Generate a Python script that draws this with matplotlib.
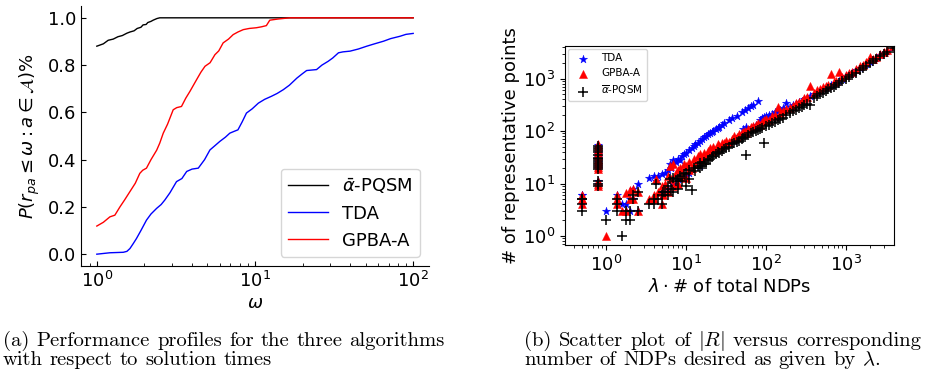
import matplotlib
matplotlib.use("Agg")
import matplotlib.pyplot as plt
import numpy as np

# ---------------- Data: performance profiles (left) ----------------
pqsm_w = [1.0, 1.1, 1.18, 1.27, 1.36, 1.45, 1.55, 1.62, 1.72, 1.8, 1.9, 1.96, 2.05,
          2.1, 2.2, 2.27, 2.4, 2.5, 100.0]
pqsm_p = [0.88, 0.89, 0.905, 0.91, 0.92, 0.925, 0.935, 0.94, 0.945, 0.955, 0.96,
          0.97, 0.972, 0.98, 0.985, 0.99, 0.997, 1.0, 1.0]

tda_w = [1.0, 1.21, 1.47, 1.55, 1.62, 1.7, 1.78, 1.9, 2.06, 2.2, 2.39, 2.55, 2.69,
         2.9, 3.19, 3.45, 3.7, 4.0, 4.38, 4.8, 5.19, 5.6, 5.99, 6.5, 6.93, 7.4, 7.8,
         8.3, 8.83, 9.6, 10.5, 11.5, 12.7, 13.8, 15.1, 16.5, 18.4, 19.8, 21.2, 24.5,
         26.5, 29.0, 31.0, 33.7, 36.0, 39.9, 45.0, 50.9, 57.0, 64.9, 72.0, 82.6, 90.0,
         100.0]
tda_p = [0.0, 0.006, 0.008, 0.012, 0.024, 0.045, 0.066, 0.1, 0.144, 0.17, 0.194, 0.21,
         0.229, 0.26, 0.307, 0.32, 0.35, 0.36, 0.364, 0.4, 0.441, 0.46, 0.477, 0.495,
         0.512, 0.52, 0.526, 0.56, 0.597, 0.615, 0.639, 0.655, 0.668, 0.68, 0.696,
         0.715, 0.745, 0.762, 0.777, 0.781, 0.8, 0.816, 0.83, 0.852, 0.856, 0.859,
         0.868, 0.88, 0.89, 0.901, 0.912, 0.922, 0.93, 0.934]

gpba_w = [1.0, 1.1, 1.21, 1.3, 1.4, 1.5, 1.62, 1.75, 1.87, 1.95, 2.06, 2.2, 2.39,
          2.5, 2.63, 2.8, 3.04, 3.2, 3.43, 3.65, 3.88, 4.27, 4.55, 4.83, 5.2, 5.58,
          5.9, 6.29, 6.8, 7.28, 7.8, 8.43, 9.2, 10.2, 11.0, 11.8, 12.4, 14.0, 16.6,
          100.0]
gpba_p = [0.119, 0.135, 0.158, 0.165, 0.2, 0.23, 0.265, 0.3, 0.342, 0.355, 0.364,
          0.4, 0.44, 0.47, 0.512, 0.55, 0.611, 0.62, 0.625, 0.66, 0.689, 0.738, 0.77,
          0.795, 0.81, 0.844, 0.86, 0.894, 0.91, 0.929, 0.94, 0.95, 0.955, 0.958,
          0.962, 0.967, 0.99, 0.995, 1.0, 1.0]

# ---------------- Data: scatter (right) ----------------
ndp_x = [0.5, 0.5, 0.5, 0.5,
         0.8, 0.8, 0.8, 0.8, 0.8, 0.8, 0.8, 0.8, 0.8, 0.8, 0.8, 0.8, 0.8, 0.8, 0.8,
         1.0, 1.4, 1.4, 1.4, 1.6, 1.8, 1.8, 2.0, 2.0, 2.2, 2.2, 2.5, 2.5,
         3.5, 4, 4, 4.2, 4.5, 5, 5, 5.2, 5.5, 6, 6, 6.3, 6.5, 7, 7, 7.5, 8, 8, 8.5, 9,
         9.5, 10, 10, 11, 11, 12, 12.5, 13, 14, 15, 15, 16, 17, 18, 19, 20, 21, 22, 24,
         25, 26, 28, 30, 32, 35, 38, 40, 43, 46, 50, 52, 55, 57, 60, 65, 70, 75, 80, 85,
         90, 95, 100, 110, 120, 130, 140, 150, 165, 180, 200, 220, 240, 260, 280, 300,
         330, 360, 400, 440, 480, 520, 560, 600, 650, 700, 760, 820, 900, 1000, 1100,
         1200, 1350, 1500, 1650, 1800, 2000, 2200, 2400, 2700, 3000, 3300, 3900]

tda_y = [4, 5, 6, 6,
         55, 50, 45, 40, 36, 32, 30, 28, 26, 24, 22, 20, 11, 10, 9,
         3, 6, 5, 4, 4, 4, 3, 3, 5, 8, 5, 10, 3,
         13, 14, 5, 11, 14, 15, 6, 7, 16, 18, 8, 24, 20, 28, 10, 26, 30, 12, 28, 33,
         36, 38, 14, 44, 16, 48, 52, 56, 60, 66, 22, 72, 76, 80, 88, 92, 96, 100, 110,
         115, 122, 130, 140, 55, 165, 175, 65, 190, 80, 230, 110, 250, 120, 270, 300, 320, 130, 370, 160,
         175, 185, 190, 200, 215, 230, 240, 250, 270, 340, 290, 310, 330, 350, 370, 400,
         430, 460, 500, 540, 580, 620, 660, 700, 740, 780, 840, 900, 980, 1100, 1200,
         1300, 1450, 1600, 1750, 1900, 2100, 2300, 2500, 2800, 3100, 3400, 4000]

gpba_y = [5, 6, 5, 4,
          57, 52, 46, 42, 38, 34, 30, 28, 26, 24, 21, 19, 11, 10, 9,
          1, 6, 5, 4, 3, 6.5, 3, 7.5, 5, 8, 5, 7, 3,
          5, 6, 5, 12, 7, 9, 4, 6, 10, 14, 7, 22, 12, 24, 9, 16, 18, 10, 20, 14,
          24, 22, 13, 26, 18, 20, 30, 24, 34, 28, 36, 30, 38, 34, 42, 48, 40, 50, 46,
          56, 52, 60, 58, 66, 62, 72, 80, 76, 86, 90, 96, 100, 92, 110, 118, 124, 130, 140, 130,
          150, 160, 170, 165, 190, 200, 290, 220, 240, 260, 280, 300, 340, 360, 380, 420,
          440, 720, 540, 600, 620, 680, 720, 760, 1200, 860, 900, 1350, 1050, 1150, 1250,
          1350, 1500, 1700, 1850, 2100, 2600, 2400, 2600, 2900, 3200, 3500, 4100]

pqsm_y = [3, 5, 4, 5,
          52, 48, 44, 40, 35, 31, 29, 27, 25, 23, 21, 19, 11, 10, 9,
          2, 5, 4, 3, 1, 2, 3, 2, 3, 6, 5, 7, 3,
          4, 4, 5, 10, 5, 6, 4, 7, 7, 9, 6, 12, 8, 13, 7, 11, 12, 8, 14, 11,
          15, 16, 9, 18, 12, 7.5, 20, 17, 22, 20, 25, 22, 26, 24, 28, 30, 32, 34, 36,
          40, 38, 42, 46, 48, 50, 56, 60, 62, 66, 70, 74, 78, 35, 84, 90, 96, 100, 106, 110,
          116, 59, 124, 130, 140, 150, 160, 170, 180, 200, 220, 240, 250, 270, 290, 310,
          330, 320, 430, 460, 500, 540, 580, 620, 660, 700, 760, 820, 880, 960, 1050,
          1150, 1300, 1450, 1600, 1750, 1950, 2150, 2350, 2650, 2950, 3250, 3900]

# ---------------- Figure ----------------
W, H = 926, 374
fig = plt.figure(figsize=(W / 100, H / 100), dpi=100)

# Left panel
ax1 = fig.add_axes([81 / W, 1 - 266 / H, (429 - 81) / W, (266 - 6) / H])
ax1.plot(pqsm_w, pqsm_p, color="black", lw=1.0, label=r"$\bar{\alpha}$-PQSM")
ax1.plot(tda_w, tda_p, color="blue", lw=1.0, label="TDA")
ax1.plot(gpba_w, gpba_p, color="red", lw=1.0, label="GPBA-A")
ax1.set_xscale("log")
ax1.set_yticks([0.0, 0.2, 0.4, 0.6, 0.8, 1.0])
ax1.spines["top"].set_visible(False)
ax1.spines["right"].set_visible(False)
ax1.tick_params(which="both", direction="in", labelsize=13)
ax1.set_xlabel(r"$\omega$", fontsize=13, labelpad=2)
ax1.set_ylabel(r"$P(r_{pa} \leq \omega : a \in \mathcal{A})\%$", fontsize=13, labelpad=4)
ax1.legend(loc="lower right", fontsize=13, handlelength=2.2)

# Right panel
ax2 = fig.add_axes([565 / W, 1 - 245 / H, (894 - 565) / W, (245 - 46) / H])
ax2.scatter(ndp_x, tda_y, marker="*", color="blue", s=38, linewidths=0.3, label="TDA")
ax2.scatter(ndp_x, gpba_y, marker="^", color="red", s=34, linewidths=0.3, label="GPBA-A")
ax2.scatter(ndp_x, pqsm_y, marker="+", color="black", s=42, linewidths=1.1,
            label=r"$\overline{\alpha}$-PQSM")
ax2.set_xscale("log")
ax2.set_yscale("log")
ax2.set_xlim(10 ** -0.509, 10 ** 3.6)
ax2.set_ylim(10 ** -0.17, 10 ** 3.62)
ax2.tick_params(which="both", labelsize=13)
ax2.set_xlabel(r"$\lambda \cdot$# of total NDPs", fontsize=13, labelpad=2)
ax2.set_ylabel("# of representative points", fontsize=13, labelpad=2)
ax2.legend(loc="upper left", fontsize=7.5, scatterpoints=1, borderaxespad=0.3)

# ---------------- Captions (justified, serif) ----------------
fig.canvas.draw()
renderer = fig.canvas.get_renderer()


def measure(words, fs):
    ws = []
    for w in words:
        t = fig.text(0, 0, w, fontsize=fs, family="cmr10", math_fontfamily="cm")
        ws.append(t.get_window_extent(renderer).width)
        t.remove()
    return ws


# choose caption size so that line (a) fills its width with natural spacing
ref_words = "(a) Performance profiles for the three algorithms".split()
ws10 = measure(ref_words, 10)
space10 = 10 * 100 / 72 * 0.333
nat10 = sum(ws10) + space10 * (len(ref_words) - 1)
CAP_FS = 10 * 440 / nat10


def place_line(words, x0, x1, ybase, justify=True):
    texts = []
    widths = []
    for w in words:
        t = fig.text(0, 0, w, fontsize=CAP_FS, family="cmr10", math_fontfamily="cm",
                     va="baseline", ha="left")
        texts.append(t)
        widths.append(t.get_window_extent(renderer).width)
    total = sum(widths)
    if justify and len(words) > 1:
        gap = (x1 - x0 - total) / (len(words) - 1)
    else:
        gap = CAP_FS * 100 / 72 * 0.333
    x = x0
    for t, wd in zip(texts, widths):
        t.set_position((x / W, 1 - ybase / H))
        x += wd + gap


place_line("(a) Performance profiles for the three algorithms".split(), 3, 445, 346)
place_line("with respect to solution times".split(), 3, 445, 365, justify=False)
place_line(["(b)", "Scatter", "plot", "of", r"$|R|$", "versus", "corresponding"],
           524, 921, 346)
place_line(["number", "of", "NDPs", "desired", "as", "given", "by", r"$\lambda$."],
           524, 921, 365, justify=False)

fig.savefig("out.png", dpi=100)
